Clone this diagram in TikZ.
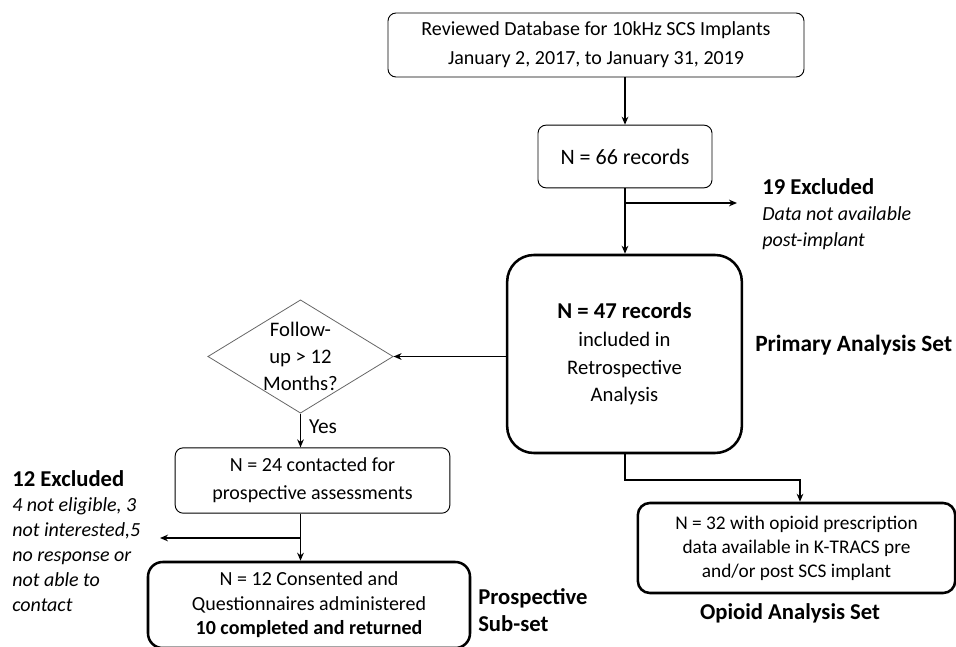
\documentclass[tikz,border=0pt]{standalone}
\usepackage{fontspec}
\setmainfont{Carlito}
\usetikzlibrary{shapes.geometric,arrows.meta}
\tikzset{
  thinbox/.style={draw,rounded corners=6pt,line width=0.7pt,align=center,inner sep=0pt},
  thickbox/.style={draw,line width=1.9pt,align=center,inner sep=0pt},
  decision/.style={draw=gray!80!black,diamond,line width=0.6pt,inner sep=0pt},
  arr/.style={-{Stealth[length=6pt,width=5pt]},line width=1.1pt},
  lbl/.style={align=left,inner sep=0pt}
}
\begin{document}
\begin{tikzpicture}[x=0.75pt,y=-0.75pt]
\useasboundingbox (0,0) rectangle (956,646);
% boxes
\node[thinbox,minimum width=312pt,minimum height=48pt,font=\fontsize{15}{21.5}\selectfont] (db) at (596,45)
   {Reviewed Database for 10kHz SCS Implants\\January 2, 2017, to January 31, 2019};
\node[thinbox,minimum width=130.5pt,minimum height=47pt,font=\fontsize{16.5}{21}\selectfont] (rec) at (625,156.5)
   {N = 66 records};
\node[thickbox,rounded corners=20pt,minimum width=176pt,minimum height=148.5pt,font=\fontsize{15.5}{20.8}\selectfont] (ret) at (624.5,354)
   {{\fontsize{17}{20.8}\selectfont\bfseries N = 47 records}\\included in\\Retrospective\\Analysis};
\node[decision,minimum width=139pt,minimum height=85pt] (fu) at (300.5,356.5) {};
\node[align=center,inner sep=0pt,font=\fontsize{15.5}{20}\selectfont] (futxt) at (fu) {Follow-\\up > 12\\Months?};
\node[thinbox,minimum width=206pt,minimum height=49pt,font=\fontsize{15}{21}\selectfont] (con) at (312.5,480.5)
   {N = 24 contacted for\\prospective assessments};
\node[thickbox,rounded corners=11pt,minimum width=241.5pt,minimum height=64.5pt,font=\fontsize{15}{18.4}\selectfont] (qst) at (309,605)
   {N = 12 Consented and\\Questionnaires administered\\\textbf{10 completed and returned}};
\node[thickbox,rounded corners=9pt,minimum width=238pt,minimum height=67.5pt,font=\fontsize{14.5}{18}\selectfont] (opi) at (796.5,548)
   {N = 32 with opioid prescription\\data available in K-TRACS pre\\and/or post SCS implant};
% side texts
\node[lbl,anchor=west,font=\fontsize{17.5}{21}\selectfont\bfseries] (pas) at (755,345) {Primary Analysis Set};
\node[lbl,anchor=north west,font=\fontsize{15}{19.5}\selectfont] (ex19) at (762,178)
   {{\fontsize{17}{19.5}\selectfont\bfseries 19 Excluded}\\\itshape Data not available\\\itshape post-implant};
\node[lbl,anchor=north west,font=\fontsize{15}{18.75}\selectfont] (ex12) at (12,470)
   {{\fontsize{17}{18.75}\selectfont\bfseries 12 Excluded}\\\itshape 4 not eligible, 3\\\itshape not interested,5\\\itshape no response or\\\itshape not able to\\\itshape contact};
\node[lbl,anchor=west,font=\fontsize{17}{20}\selectfont\bfseries] (pss) at (478,610) {Prospective\\Sub-set};
\node[font=\fontsize{17}{20}\selectfont\bfseries,inner sep=0pt] (oas) at (790,613) {Opioid Analysis Set};
% connectors
\coordinate (split19) at (625,203);
\coordinate (end19) at (737,203);
\coordinate (split12) at (300,538);
\coordinate (end12) at (160,538);
\draw[arr] (rec.north |- db.south) -- (rec.north);
\draw[arr] (rec.south) -- (rec.south |- ret.north);
\draw[arr] (split19) -- (end19);
\draw[arr] (ret.west |- fu.east) -- (fu.east);
\draw[arr] (fu.south) -- (fu.south |- con.north)
   node[pos=0.4,right=6pt,font=\fontsize{16}{20}\selectfont,inner sep=0pt] (yes) {Yes};
\draw[arr] (fu.south |- con.south) -- (fu.south |- qst.north);
\draw[arr] (split12) -- (end12);
\draw[arr] (rec.south |- ret.south) -- (625,480) -| (800,0 |- opi.north);
\end{tikzpicture}
\end{document}
